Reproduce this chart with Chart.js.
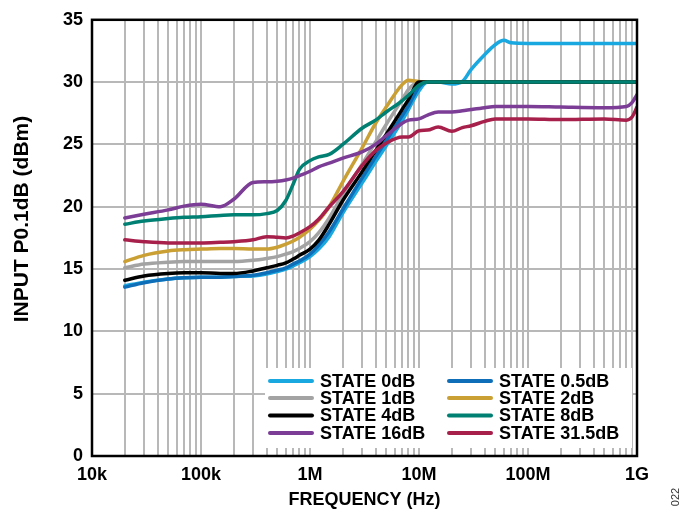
<!DOCTYPE html>
<html>
<head>
<meta charset="utf-8">
<script src="https://cdn.jsdelivr.net/npm/chart.js@4.4.1/dist/chart.umd.min.js"></script>
<style>
  html, body { margin: 0; padding: 0; background: #ffffff; }
  #wrap { width: 680px; height: 513px; }
</style>
</head>
<body>
<div id="wrap"><canvas id="chart" width="680" height="513"></canvas></div>
<script>
// Frequency grid (Hz) shared by every attenuation state
const freqHz = [2e4, 3e4, 5e4, 7e4, 1e5, 1.5e5, 2e5, 3e5, 4e5, 5e5, 6e5, 7e5, 8e5,
  1e6, 1.2e6, 1.5e6, 2e6, 3e6, 4e6, 5e6, 7e6, 8e6, 1e7, 1.2e7, 1.5e7, 2e7, 2.5e7,
  3e7, 4e7, 5e7, 6e7, 7e7, 1e8, 2e8, 5e8, 8e8, 9e8, 1e9];

// Input P0.1dB (dBm) for each attenuation state
const state0dB = [13.65, 13.95, 14.2, 14.3, 14.35, 14.35, 14.4, 14.45, 14.6, 14.8, 15.0, 15.25, 15.5,
  16.0, 16.6, 17.6, 19.5, 21.9, 23.6, 24.9, 26.9, 27.8, 29.3, 30.0, 30.0, 29.85, 30.05,
  31.0, 32.2, 33.0, 33.35, 33.15, 33.1, 33.1, 33.1, 33.1, 33.1, 33.1];
const state05dB = [13.55, 13.9, 14.2, 14.3, 14.35, 14.35, 14.4, 14.5, 14.7, 14.9, 15.1, 15.4, 15.65,
  16.2, 16.9, 18.0, 19.8, 22.3, 24.0, 25.3, 27.3, 28.1, 29.6, 30.0, 30.0, 30.0, 30.0,
  30.0, 30.0, 30.0, 30.0, 30.0, 30.0, 30.0, 30.0, 30.0, 30.0, 30.0];
const state1dB = [15.1, 15.4, 15.55, 15.6, 15.6, 15.6, 15.6, 15.7, 15.85, 16.0, 16.2, 16.4, 16.65,
  17.2, 17.9, 19.1, 21.0, 23.4, 25.2, 26.6, 28.6, 29.4, 30.0, 30.0, 30.0, 30.0, 30.0,
  30.0, 30.0, 30.0, 30.0, 30.0, 30.0, 30.0, 30.0, 30.0, 30.0, 30.0];
const state2dB = [15.6, 16.1, 16.45, 16.55, 16.6, 16.65, 16.65, 16.6, 16.6, 16.75, 17.0, 17.25, 17.55,
  18.2, 18.9, 20.0, 22.0, 24.7, 26.7, 28.0, 29.8, 30.15, 30.05, 30.0, 30.0, 30.0, 30.0,
  30.0, 30.0, 30.0, 30.0, 30.0, 30.0, 30.0, 30.0, 30.0, 30.0, 30.0];
const state4dB = [14.1, 14.45, 14.65, 14.7, 14.7, 14.65, 14.65, 14.85, 15.1, 15.3, 15.5, 15.8, 16.1,
  16.6, 17.3, 18.6, 20.5, 22.8, 24.5, 25.8, 27.8, 28.6, 30.0, 30.0, 30.0, 30.0, 30.0,
  30.0, 30.0, 30.0, 30.0, 30.0, 30.0, 30.0, 30.0, 30.0, 30.0, 30.0];
const state8dB = [18.6, 18.85, 19.05, 19.15, 19.2, 19.3, 19.35, 19.35, 19.45, 19.7, 20.5, 21.8, 23.0,
  23.7, 24.0, 24.2, 25.0, 26.3, 26.95, 27.6, 28.5, 28.95, 29.75, 30.0, 30.0, 30.0, 30.0,
  30.0, 30.0, 30.0, 30.0, 30.0, 30.0, 30.0, 30.0, 30.0, 30.0, 30.0];
const state16dB = [19.1, 19.4, 19.75, 20.05, 20.2, 20.0, 20.6, 21.95, 22.0, 22.05, 22.15, 22.3, 22.5,
  22.85, 23.2, 23.5, 23.9, 24.4, 25.0, 25.7, 26.7, 26.95, 27.05, 27.35, 27.6, 27.6, 27.7,
  27.8, 27.95, 28.05, 28.05, 28.05, 28.05, 28.0, 27.95, 28.05, 28.35, 29.0];
const state315dB = [17.35, 17.2, 17.1, 17.1, 17.1, 17.15, 17.2, 17.35, 17.6, 17.55, 17.5, 17.65, 17.9,
  18.4, 19.0, 20.0, 21.2, 23.3, 24.5, 25.1, 25.6, 25.6, 26.1, 26.15, 26.4, 26.05, 26.35,
  26.5, 26.85, 27.05, 27.05, 27.05, 27.05, 27.0, 27.05, 26.95, 27.2, 28.0];

const stateLabels = ['STATE 0dB', 'STATE 0.5dB', 'STATE 1dB', 'STATE 2dB',
  'STATE 4dB', 'STATE 8dB', 'STATE 16dB', 'STATE 31.5dB'];
const stateValues = [state0dB, state05dB, state1dB, state2dB, state4dB, state8dB, state16dB, state315dB];
const stateColors = ['#1aa8e0', '#0e6fb8', '#a3a3a3', '#caa035', '#000000', '#008072', '#7b3d95', '#a71f4b'];

// Decade tick labels on the frequency axis
const decadeLabels = { 1e4: '10k', 1e5: '100k', 1e6: '1M', 1e7: '10M', 1e8: '100M', 1e9: '1G' };
const yTickStep = 5;
const yTitle = 'INPUT P0.1dB (dBm)';

// 1..9 x 10^n grid positions across the frequency span
const freqTicks = [];
for (let e = 4; e <= 8; e++) {
  for (let m = 1; m <= 9; m++) freqTicks.push(m * Math.pow(10, e));
}
freqTicks.push(1e9);

const FONT = '"Liberation Sans", Arial, sans-serif';

// Black frame round the plot area, the vertical axis title and the figure number
const framePlugin = {
  id: 'plotFrame',
  afterDraw(chart) {
    const { ctx, chartArea: a } = chart;
    ctx.save();
    ctx.strokeStyle = '#000';
    ctx.lineWidth = 2.5;
    ctx.strokeRect(a.left, a.top, a.right - a.left, a.bottom - a.top);

    ctx.save();
    ctx.translate(22, 219);
    ctx.rotate(-Math.PI / 2);
    ctx.fillStyle = '#000';
    ctx.font = 'bold 21px ' + FONT;
    ctx.textAlign = 'center';
    ctx.textBaseline = 'middle';
    ctx.fillText(yTitle, 0, 0);
    ctx.restore();

    ctx.translate(676, 497);
    ctx.rotate(-Math.PI / 2);
    ctx.fillStyle = '#333';
    ctx.font = '11px ' + FONT;
    ctx.textAlign = 'center';
    ctx.textBaseline = 'middle';
    ctx.fillText('022', 0, 0);
    ctx.restore();
  }
};

// Two-column legend on a white panel in the lower right of the plot
const stateLegend = {
  id: 'stateLegend',
  beforeDatasetsDraw(chart) {
    const { ctx, chartArea: a } = chart;
    const x0 = a.right - 372, y0 = a.bottom - 88;
    ctx.save();
    ctx.fillStyle = '#fff';
    ctx.fillRect(x0, y0, 367, 80);
    ctx.font = 'bold 18px ' + FONT;
    ctx.textBaseline = 'middle';
    ctx.textAlign = 'left';
    ctx.lineCap = 'round';
    ctx.lineWidth = 4;
    const rowY = [13, 30, 47.5, 65];
    chart.data.datasets.forEach((ds, i) => {
      const col = i % 2, row = Math.floor(i / 2);
      const sx = x0 + (col ? 184 : 5);
      const y = y0 + rowY[row];
      ctx.strokeStyle = ds.borderColor;
      ctx.beginPath();
      ctx.moveTo(sx, y);
      ctx.lineTo(sx + 42, y);
      ctx.stroke();
      ctx.fillStyle = '#000';
      ctx.fillText(ds.label, sx + 50, y + 1);
    });
    ctx.restore();
  }
};

const datasets = stateLabels.map((label, i) => ({
  label,
  data: freqHz.map((f, k) => ({ x: f, y: stateValues[i][k] })),
  borderColor: stateColors[i],
  backgroundColor: stateColors[i],
  order: stateLabels.length - i
}));

new Chart(document.getElementById('chart'), {
  type: 'line',
  data: { datasets },
  options: {
    responsive: false,
    animation: false,
    devicePixelRatio: 1,
    layout: { padding: { left: 0, right: 43, top: 17, bottom: 0 } },
    elements: {
      point: { radius: 0, hoverRadius: 0 },
      line: { borderWidth: 3.5, cubicInterpolationMode: 'monotone', borderCapStyle: 'round', borderJoinStyle: 'round' }
    },
    plugins: { legend: { display: false }, tooltip: { enabled: false } },
    scales: {
      x: {
        type: 'logarithmic',
        min: 1e4,
        max: 1e9,
        afterBuildTicks: (scale) => { scale.ticks = freqTicks.map(v => ({ value: v })); },
        afterFit: (scale) => { scale.height = 57; },
        border: { display: false },
        grid: { color: '#b8b8b8', lineWidth: 2, drawTicks: false },
        ticks: {
          autoSkip: false,
          maxRotation: 0,
          minRotation: 0,
          padding: 8,
          color: '#000',
          font: { family: FONT, size: 18, weight: 'bold' },
          callback: (v) => decadeLabels[v] || ''
        },
        title: {
          display: true,
          text: 'FREQUENCY (Hz)',
          color: '#000',
          font: { family: FONT, size: 18, weight: 'bold' },
          padding: { top: 0, bottom: 2 }
        }
      },
      y: {
        min: 0,
        max: 35,
        afterFit: (scale) => { scale.width = 92; },
        border: { display: false },
        grid: { color: '#b8b8b8', lineWidth: 2, drawTicks: false },
        ticks: {
          stepSize: yTickStep,
          padding: 9,
          color: '#000',
          font: { family: FONT, size: 18, weight: 'bold' }
        },
        title: { display: false }
      }
    }
  },
  plugins: [stateLegend, framePlugin]
});
</script>
</body>
</html>
